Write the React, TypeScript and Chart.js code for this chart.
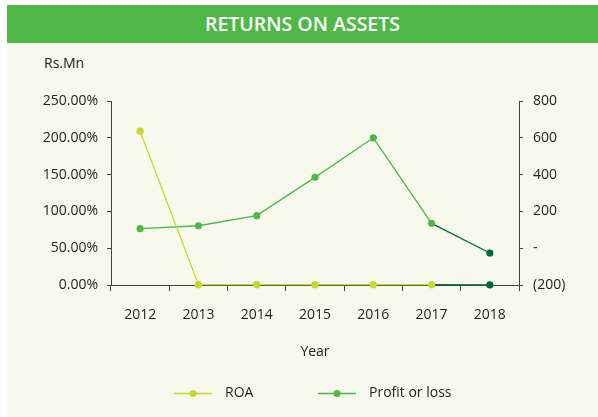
import React, { useEffect, useRef } from "react";
import { Chart, registerables } from "chart.js";

Chart.register(...registerables);

const categories = ["2012", "2013", "2014", "2015", "2016", "2017", "2018"];
const roaValues = [209, 0.4, 0.5, 0.5, 0.4, 0.5, 0.1];
const profitValues = [106, 122, 177, 385, 600, 135, -26];
const leftTickValues = [0, 50, 100, 150, 200, 250];
const leftTickLabels = ["0.00%", "50.00%", "100.00%", "150.00%", "200.00%", "250.00%"];
const rightTickValues = [-200, 0, 200, 400, 600, 800];
const rightTickLabels = ["(200)", "-", "200", "400", "600", "800"];
const seriesNames = ["ROA", "Profit or loss"];

const ROA_COLOR = "#c6d72f";
const PROFIT_COLOR = "#4fb848";
const DARK_COLOR = "#00693b";
const TEXT_COLOR = "#231f20";
const AXIS_COLOR = "#444444";
const FONT = "'Open Sans', sans-serif";

const legendPlugin = {
  id: "customLegend",
  afterDraw(chart: any) {
    const ctx = chart.ctx;
    const y = 350.5;
    const items = [
      { x: 167, color: ROA_COLOR, text: seriesNames[0] },
      { x: 311, color: PROFIT_COLOR, text: seriesNames[1] },
    ];
    ctx.save();
    ctx.font = `14px ${FONT}`;
    ctx.textBaseline = "middle";
    ctx.textAlign = "left";
    for (const it of items) {
      ctx.strokeStyle = it.color;
      ctx.lineWidth = 1.3;
      ctx.beginPath();
      ctx.moveTo(it.x, y);
      ctx.lineTo(it.x + 38, y);
      ctx.stroke();
      ctx.fillStyle = it.color;
      ctx.beginPath();
      ctx.arc(it.x + 19, y, 3.5, 0, Math.PI * 2);
      ctx.fill();
      ctx.fillStyle = TEXT_COLOR;
      ctx.fillText(it.text, it.x + 51, y);
    }
    ctx.restore();
  },
};

export default function App() {
  const canvasRef = useRef<HTMLCanvasElement | null>(null);

  useEffect(() => {
    document.body.style.margin = "0";
    const last = categories.length - 1;
    const pointColors = (c: string) => categories.map((_, i) => (i === last ? DARK_COLOR : c));
    const chart = new Chart(canvasRef.current as HTMLCanvasElement, {
      type: "line",
      data: {
        labels: categories,
        datasets: [
          {
            label: seriesNames[0],
            data: roaValues,
            yAxisID: "y",
            borderColor: ROA_COLOR,
            backgroundColor: ROA_COLOR,
            pointBackgroundColor: pointColors(ROA_COLOR),
            pointBorderWidth: 0,
            pointRadius: 3.6,
            borderWidth: 1.3,
            tension: 0,
            clip: false,
            segment: { borderColor: (c: any) => (c.p1DataIndex === last ? DARK_COLOR : undefined) },
          } as any,
          {
            label: seriesNames[1],
            data: profitValues,
            yAxisID: "y1",
            borderColor: PROFIT_COLOR,
            backgroundColor: PROFIT_COLOR,
            pointBackgroundColor: pointColors(PROFIT_COLOR),
            pointBorderWidth: 0,
            pointRadius: 3.6,
            borderWidth: 1.3,
            tension: 0,
            clip: false,
            segment: { borderColor: (c: any) => (c.p1DataIndex === last ? DARK_COLOR : undefined) },
          } as any,
        ],
      },
      options: {
        animation: false,
        responsive: false,
        maintainAspectRatio: false,
        layout: { padding: { left: 0, right: 0, top: 58, bottom: 52 } },
        plugins: { legend: { display: false }, tooltip: { enabled: false }, title: { display: false } },
        scales: {
          x: {
            offset: true,
            grid: { offset: true, drawOnChartArea: false, drawTicks: true, tickLength: 6, color: AXIS_COLOR },
            border: { display: true, color: AXIS_COLOR, width: 1 },
            ticks: { color: TEXT_COLOR, padding: 16, font: { family: FONT, size: 14 } },
            title: { display: true, text: "Year", color: TEXT_COLOR, padding: { top: 0, bottom: 5 }, font: { family: FONT, size: 14 } },
            afterFit: (s: any) => { s.height = 80; },
          },
          y: {
            position: "left",
            min: 0,
            max: 250,
            afterBuildTicks: (s: any) => { s.ticks = leftTickValues.map((v) => ({ value: v })); },
            grid: { drawOnChartArea: false, drawTicks: true, tickLength: 4, color: AXIS_COLOR },
            border: { display: true, color: AXIS_COLOR, width: 1 },
            ticks: {
              color: TEXT_COLOR,
              padding: 9,
              font: { family: FONT, size: 14 },
              callback: (v: any) => leftTickLabels[leftTickValues.indexOf(Number(v))] ?? "",
            },
            afterFit: (s: any) => { s.width = 104; },
          },
          y1: {
            position: "right",
            min: -200,
            max: 800,
            afterBuildTicks: (s: any) => { s.ticks = rightTickValues.map((v) => ({ value: v })); },
            grid: { drawOnChartArea: false, drawTicks: true, tickLength: 4, color: AXIS_COLOR },
            border: { display: true, color: AXIS_COLOR, width: 1 },
            ticks: {
              color: TEXT_COLOR,
              padding: 10,
              font: { family: FONT, size: 14 },
              callback: (v: any) => rightTickLabels[rightTickValues.indexOf(Number(v))] ?? "",
            },
            afterFit: (s: any) => { s.width = 79; },
          },
        },
      } as any,
      plugins: [legendPlugin],
    });
    return () => chart.destroy();
  }, []);

  return (
    <div style={{ position: "absolute", left: 0, top: 0, width: 598, height: 417, background: "#ffffff", overflow: "hidden" }}>
      <div style={{ position: "absolute", left: 7, top: 5, width: 591, height: 412, background: "#f6f9eb" }} />
      <div
        style={{
          position: "absolute",
          left: 7,
          top: 5,
          width: 591,
          height: 38,
          background: "#50b848",
          color: "#ffffff",
          fontFamily: FONT,
          fontWeight: 600,
          fontSize: 19.5,
          lineHeight: "38px",
          textAlign: "center",
        }}
      >
        RETURNS ON ASSETS
      </div>
      <div
        style={{
          position: "absolute",
          left: 44,
          top: 53,
          fontFamily: FONT,
          fontSize: 14,
          lineHeight: "20px",
          color: TEXT_COLOR,
        }}
      >
        Rs.Mn
      </div>
      <canvas ref={canvasRef} width={591} height={374} style={{ position: "absolute", left: 7, top: 43, width: 591, height: 374 }} />
    </div>
  );
}
